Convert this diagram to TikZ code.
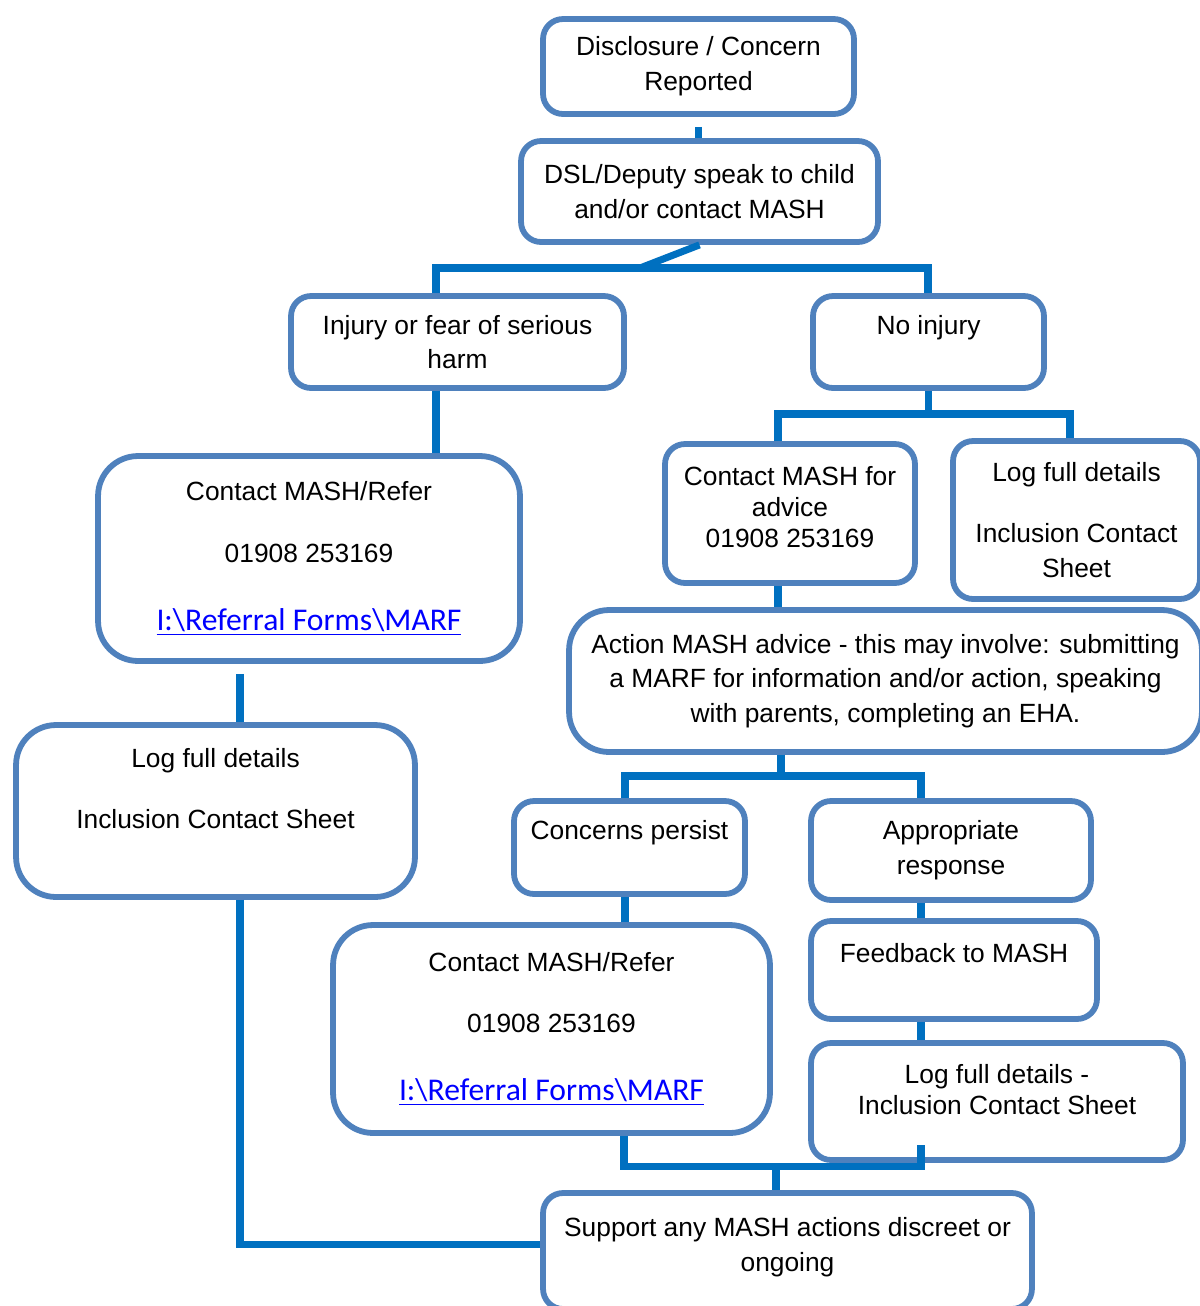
\documentclass[tikz,border=0pt]{standalone}
\usepackage{fontspec}
\setmainfont{Liberation Sans}
\newfontfamily\linkfont{Carlito}
\usetikzlibrary{positioning,calc}

\newcommand{\marflink}{{\linkfont\fontsize{18}{22}\selectfont\color{linkblue}\underline{I:\textbackslash Referral Forms\textbackslash MARF}}}

\begin{document}
\begin{tikzpicture}[x=0.02cm, y=-0.02cm,
    box/.style={draw=boxblue, line width=3.3pt, rounded corners=0.4cm, fill=white,
        align=center, inner sep=0pt, font=\fontsize{15}{19.8}\selectfont},
    bigbox/.style={box, rounded corners=0.8cm},
    wire/.style={draw=wireblue, line width=4pt, line join=miter}]
    % Colori
    \definecolor{boxblue}{RGB}{79,129,189}
    \definecolor{wireblue}{RGB}{0,112,192}
    \definecolor{linkblue}{RGB}{0,0,255}

    \useasboundingbox (0,0) rectangle (1200,1306);
    \clip (0,0) rectangle (1200,1306);

    % Riquadri
    \node[box, minimum width=6.22cm, minimum height=1.90cm] (disc) at (698.5,66.5)
        {Disclosure / Concern\\Reported};
    \node[box, minimum width=7.14cm, minimum height=2.02cm] (dsl) at (699.5,191.5)
        {DSL/Deputy speak to child\\and/or contact MASH};
    \node[box, minimum width=6.66cm, minimum height=1.84cm] (injury) at (457.5,342)
        {Injury or fear of serious\\harm};
    \node[box, minimum width=4.62cm, minimum height=1.84cm] (noinj) at (928.5,342)
        {No injury\\\mbox{}};
    \node[bigbox, minimum width=8.44cm, minimum height=4.10cm] (refer1) at (309,558.5)
        {Contact MASH/Refer\\[15pt]01908 253169\\[19pt]\marflink};
    \node[box, minimum width=5.00cm, minimum height=2.78cm] (advice) at (790,513.5)
        {Contact MASH for\\[-2.2pt]advice\\[-2.2pt]01908 253169\\[-12pt]\mbox{}};
    \node[box, minimum width=4.94cm, minimum height=3.16cm] (logA) at (1076.5,520)
        {Log full details\\[15pt]Inclusion Contact\\Sheet};
    \node[bigbox, minimum width=12.66cm, minimum height=2.84cm] (action) at (885.5,681)
        {Action MASH advice - this may involve: submitting\\a MARF for information and/or action, speaking\\with parents, completing an EHA.};
    \node[bigbox, minimum width=7.98cm, minimum height=3.44cm] (logB) at (215.5,811)
        {Log full details\\[15pt]Inclusion Contact Sheet\\\strut};
    \node[box, minimum width=4.62cm, minimum height=1.86cm] (persist) at (629.5,847.5)
        {Concerns persist\\\mbox{}};
    \node[box, minimum width=5.60cm, minimum height=1.98cm] (approp) at (951,850.5)
        {Appropriate\\response};
    \node[box, minimum width=5.72cm, minimum height=1.96cm] (feedback) at (954,970)
        {Feedback to MASH\\\mbox{}};
    \node[box, minimum width=7.44cm, minimum height=2.34cm] (logC) at (997,1101.5)
        {Log full details -\\[-2.2pt]Inclusion Contact Sheet\\[-6.2pt]\mbox{}};
    \node[bigbox, minimum width=8.74cm, minimum height=4.16cm] (refer2) at (551.5,1029)
        {Contact MASH/Refer\\[15pt]01908 253169\\[19pt]\marflink};
    \node[box, minimum width=9.78cm, minimum height=2.32cm] (support) at (787.5,1251)
        {Support any MASH actions discreet or\\ongoing\\[-12pt]\mbox{}};

    % Punti di diramazione
    \coordinate (forkM) at (640,268);
    \coordinate (forkL) at (436,268);
    \coordinate (forkR) at (928,268);
    \coordinate (forkNL) at (778,414);
    \coordinate (forkNR) at (1070,414);
    \coordinate (forkC) at (781,776);
    \coordinate (forkCL) at (625,776);
    \coordinate (forkCR) at (921,776);
    \coordinate (joinL) at (624,1166);
    \coordinate (joinM) at (776,1166);
    \coordinate (joinR) at (921,1166);
    \coordinate (bendL) at (240,1244);

    % Connettori
    \draw[wire] ([yshift=-0.2cm]disc.south) -- (disc.south |- dsl.north);
    \draw[wire] (dsl.south) -- (forkM);
    \draw[wire] (injury.north -| forkL) -- (forkL) -- (forkR) -- (noinj.north -| forkR);
    \draw[wire] (injury.south -| forkL) -- (refer1.north -| forkL);
    \draw[wire] (noinj.south) -- (noinj.south |- forkNL);
    \draw[wire] (advice.north -| forkNL) -- (forkNL) -- (forkNR) -- (logA.north -| forkNR);
    \draw[wire] (advice.south -| forkNL) -- (action.north -| forkNL);
    \draw[wire] (action.south -| forkC) -- (forkC);
    \draw[wire] (persist.north -| forkCL) -- (forkCL) -- (forkCR) -- (approp.north -| forkCR);
    \draw[wire] (persist.south -| forkCL) -- (refer2.north -| forkCL);
    \draw[wire] (approp.south -| forkCR) -- (feedback.north -| forkCR);
    \draw[wire] (feedback.south -| forkCR) -- (logC.north -| forkCR);
    \draw[wire] (refer2.south -| joinL) -- (joinL) -- (joinR) -- ([yshift=0.36cm]logC.south -| joinR);
    \draw[wire] (joinM) -- (support.north -| joinM);
    \draw[wire] ([yshift=-0.2cm]refer1.south -| bendL) -- (logB.north -| bendL);
    \draw[wire] (logB.south -| bendL) -- (bendL) -- (bendL -| support.west);
\end{tikzpicture}
\end{document}
